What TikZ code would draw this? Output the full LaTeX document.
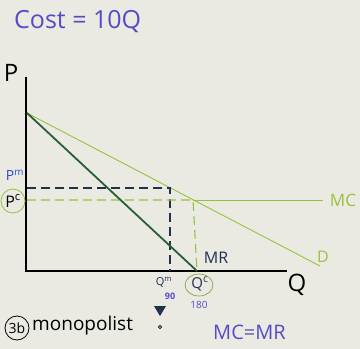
\documentclass[tikz,border=0pt]{standalone}
\usepackage{fontspec}
\setmainfont{Open Sans}
\usetikzlibrary{shapes.geometric}
\begin{document}
\begin{tikzpicture}[x=1pt,y=-1pt,
  lab/.style={inner sep=0pt,font=\fontsize{13}{13}\selectfont},
  ylw/.style={draw=lgreen,line width=0.9pt},
  dsh/.style={dash pattern=on 9pt off 5pt,line width=1.1pt}]
\definecolor{paper}{RGB}{234,234,227}
\definecolor{lgreen}{RGB}{150,195,60}
\definecolor{dgreen}{RGB}{40,95,55}
\definecolor{navy}{RGB}{30,50,80}
\definecolor{purp}{RGB}{85,75,200}
\definecolor{pblue}{RGB}{45,75,205}
\fill[paper] (0,0) rectangle (360,349);
\useasboundingbox (0,0) rectangle (360,349);
% axes
\coordinate (ytop) at (26,77);
\coordinate (O) at (26,271);
\coordinate (xend) at (287,271);
\draw[line width=1.2pt,black] (ytop) -- (O) -- (xend);
% key points
\coordinate (A) at (27,113);
\coordinate (Dend) at (320,266);
\coordinate (Qc) at (197,271);
\coordinate (Em) at (170,188);
\coordinate (Ec) at (193,200);
\coordinate (Pm) at (27,188);
\coordinate (Pc) at (27,200);
\coordinate (Qm) at (170,271);
\coordinate (MCend) at (323,200);
% demand
\draw[ylw] (A) -- (Dend);
% MC
\draw[ylw] (Ec) -- (MCend);
% dashed lines
\draw[navy,dsh] (Pm) -- (Em) -- (Qm);
\draw[lgreen,dsh] (Pc) -- (Ec) -- (Qc);
% MR
\draw[dgreen,line width=1.8pt] (A) -- (Qc);
% labels
\node[lab,purp,font=\fontsize{25}{25}\selectfont,anchor=west] (cost) at (14,22) {Cost = 10Q};
\node[lab,black,font=\fontsize{24}{24}\selectfont] (P) at (11,73) {P};
\node[lab,black,font=\fontsize{24}{24}\selectfont] (Q) at (297,285) {Q};
\node[lab,pblue,font=\fontsize{14}{14}\selectfont] (pm) at (15,175) {P\textsuperscript{m}};
\node[lab,black,font=\fontsize{16}{16}\selectfont] (pc) at (13,201) {P\textsuperscript{c}};
\node[draw=lgreen,circle,line width=0.8pt,minimum size=24pt,inner sep=0pt] (pcc) at (13,201) {};
\node[lab,lgreen,font=\fontsize{17}{17}\selectfont] (mc) at (343,200) {MC};
\node[lab,lgreen,font=\fontsize{16}{16}\selectfont] (d) at (323,257) {D};
\node[lab,navy,font=\fontsize{16}{16}\selectfont] (mr) at (216,258) {MR};
\node[lab,navy,font=\fontsize{11}{11}\selectfont] (qm) at (164,282) {Q\textsuperscript{m}};
\node[lab,purp,font=\fontsize{9}{9}\selectfont\bfseries] (n90) at (170,296) {90};
\node[lab,navy,font=\fontsize{15}{15}\selectfont] (qc) at (200,284) {Q\textsuperscript{c}};
\node[draw=lgreen!80!black,ellipse,line width=0.6pt,minimum width=28pt,minimum height=22pt,inner sep=0pt] (qcc) at (199,285) {};
\node[lab,purp,font=\fontsize{10}{10}\selectfont] (n180) at (199,305) {180};
\node[lab,black,font=\fontsize{19}{19}\selectfont,anchor=west] (mono) at (32,326) {monopolist};
\node[lab,black,font=\fontsize{14}{14}\selectfont] (tb) at (17,328) {3b};
\node[draw=black,circle,line width=0.8pt,minimum size=24pt,inner sep=0pt] (tbc) at (tb) {};
\node[lab,purp,font=\fontsize{20}{20}\selectfont,anchor=west] (mcmr) at (213,332) {MC=MR};
\fill[navy] (154,306) -- (166,306) -- (160,316) -- cycle;
\draw[black,line width=0.6pt] (160,327) circle (1.6);
\end{tikzpicture}
\end{document}
